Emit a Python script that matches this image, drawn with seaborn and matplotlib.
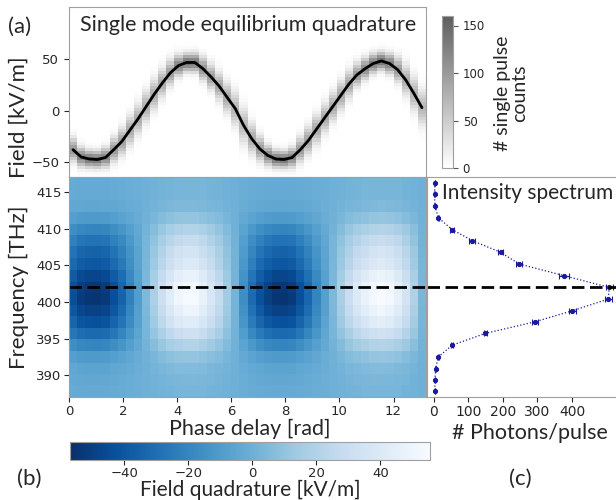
import numpy as np
import matplotlib
matplotlib.use("Agg")
import matplotlib.pyplot as plt
import seaborn as sns
from matplotlib.colors import LinearSegmentedColormap

# --- data ---
# phase delay grid (rad), one sample per 0.3 rad column
phase_rad = np.arange(44) * 0.3 + 0.15
# mean field of the single mode quadrature (kV/m)
field_kvm = [-38, -45, -47, -47.5, -45.5, -38, -30, -19, -8, 4,
             16, 27, 37, 44, 47, 47, 41, 33, 24, 13,
             2, -14, -27, -37, -43.5, -47, -47.5, -45.5, -38, -29,
             -18, -7, 4, 15, 26, 35, 41, 46, 48.5, 46,
             40, 30, 17, 3]

# spectrum rows (THz), top to bottom
freq_thz = [416.3, 414.7, 413.1, 411.5, 409.9, 408.4, 406.8, 405.2, 403.6, 402.0,
            400.4, 398.8, 397.3, 395.7, 394.1, 392.5, 390.9, 389.4, 387.8]
photons = [3, 2, 3, 13, 53, 111, 193, 247, 377, 508,
           505, 401, 293, 149, 53, 13, 5, 3, 3]
photons_err = [1, 1, 1, 2, 5, 9, 8, 9, 14, 10,
               10, 10, 8, 5, 3, 2, 1, 1, 1]
# field quadrature amplitude per spectral row (kV/m)
amp_kvm = [3, 3, 5, 11, 21, 29, 36, 41, 49, 55,
           56, 51, 44, 33, 21, 11, 6, 4, 3]

peak_freq = 402.0

W, H = 616, 500


def rect(x0, y0, x1, y1):
    return [x0 / W, 1 - y1 / H, (x1 - x0) / W, (y1 - y0) / H]


sns.set_style("ticks")
plt.rcParams['font.family'] = ['DejaVu Sans']
LAB = 'Lato'
SPINE = '#a0a0a0'

fig = plt.figure(figsize=(W / 100, H / 100), dpi=100)

ax_top = fig.add_axes(rect(69, 7, 426, 177))
ax_heat = fig.add_axes(rect(69, 177, 426, 397))
ax_spec = fig.add_axes(rect(427, 177, 622, 397))
cax_top = fig.add_axes(rect(442, 16, 453, 168))
cax_bot = fig.add_axes(rect(70, 442, 430, 460))

phase_edges = np.arange(45) * 0.3

# --- (a) single pulse histogram around the mean quadrature ---
field = np.array(field_kvm)
field_edges = np.arange(-66, 103, 3.0)
field_mid = 0.5 * (field_edges[1:] + field_edges[:-1])
slope = np.gradient(field, phase_rad)
sigma = np.sqrt(5.5 ** 2 + (0.2 * slope) ** 2)
counts = 640 * 3.0 / (np.sqrt(2 * np.pi) * sigma) * \
    np.exp(-0.5 * ((field_mid[:, None] - field[None, :]) / sigma[None, :]) ** 2)
grey = LinearSegmentedColormap.from_list('grey', ['white', '#5e5e5e'])
m_top = ax_top.pcolormesh(phase_edges, field_edges, counts, cmap=grey, vmin=0, vmax=160)
sns.lineplot(x=phase_rad, y=field, color='black', lw=2, ax=ax_top)
ax_top.set_xlim(0, 13.2)
ax_top.set_ylim(-64.5, 101)
ax_top.set_yticks([-50, 0, 50])
ax_top.tick_params(bottom=False, labelbottom=False, labelsize=9.5)
ax_top.text(0.503, 0.894, 'Single mode equilibrium quadrature', transform=ax_top.transAxes,
            ha='center', va='center', family=LAB, fontsize=15.5)

cb_top = fig.colorbar(m_top, cax=cax_top)
cb_top.set_ticks([0, 50, 100, 150])
cb_top.ax.tick_params(labelsize=8.5, color='#555555')
cb_top.outline.set_edgecolor(SPINE)

# --- (b) spectrally resolved field quadrature ---
order = np.argsort(freq_thz)
f_sorted = np.array(freq_thz)[order]
a_sorted = np.array(amp_kvm)[order]
f_edges = np.concatenate([[f_sorted[0] - 0.79], 0.5 * (f_sorted[1:] + f_sorted[:-1]),
                          [f_sorted[-1] + 0.79]])
quad = a_sorted[:, None] * field[None, :] / np.abs(field).max()
m_heat = ax_heat.pcolormesh(phase_edges, f_edges, quad, cmap='Blues_r', vmin=-57, vmax=55.5)
ax_heat.axhline(peak_freq, color='black', lw=2, ls=(0, (4.5, 2)))
ax_heat.set_xlim(0, 13.2)
ax_heat.set_ylim(f_edges[0], f_edges[-1])
ax_heat.set_xticks(range(0, 13, 2))
ax_heat.set_yticks(range(390, 416, 5))
ax_heat.tick_params(labelsize=9.5, pad=2)

cb_bot = fig.colorbar(m_heat, cax=cax_bot, orientation='horizontal')
cb_bot.set_ticks([-40, -20, 0, 20, 40])
cb_bot.ax.tick_params(labelsize=9.5, pad=1.5)
cb_bot.outline.set_edgecolor(SPINE)

# --- (c) intensity spectrum ---
navy = '#1a1a9c'
ax_spec.errorbar(photons, freq_thz, xerr=photons_err, fmt='none', ecolor=navy,
                 elinewidth=0.8, capsize=2, capthick=0.8)
sns.lineplot(x=photons, y=freq_thz, sort=False, estimator=None, color=navy, lw=0.9,
             ls=':', marker='o', markersize=3, markeredgecolor=navy, ax=ax_spec)
ax_spec.axhline(peak_freq, color='black', lw=2, ls=(0, (4.5, 2)))
ax_spec.set_xlim(-20, 545)
ax_spec.set_ylim(f_edges[0], f_edges[-1])
ax_spec.set_xticks([0, 100, 200, 300, 400])
ax_spec.tick_params(left=False, labelleft=False, labelsize=10, pad=2)
ax_spec.text(442 / W, 1 - 193 / H, 'Intensity spectrum', transform=fig.transFigure,
             ha='left', va='center', family=LAB, fontsize=15)

for ax in (ax_top, ax_heat, ax_spec):
    for s in ax.spines.values():
        s.set_edgecolor(SPINE)
    ax.set_xlabel('')
    ax.set_ylabel('')


def ftext(x, y, s, size=16, **kw):
    fig.text(x / W, 1 - y / H, s, ha='center', va='center', family=LAB, fontsize=size, **kw)


ftext(20, 27, '(a)')
ftext(29, 479, '(b)')
ftext(520, 479, '(c)')
ftext(19, 117, 'Field [kV/m]', rotation=90)
ftext(19, 287, 'Frequency [THz]', rotation=90)
ftext(250, 429, 'Phase delay [rad]', size=15.5)
ftext(530, 433, '# Photons/pulse', size=15.5)
ftext(250, 490, 'Field quadrature [kV/m]', size=15)
ftext(511, 93, '# single pulse\ncounts', size=14, rotation=90, linespacing=1.0)

fig.savefig('out.png', dpi=100)
